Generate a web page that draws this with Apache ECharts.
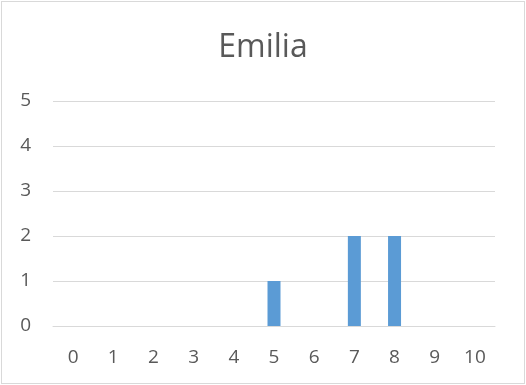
<!DOCTYPE html>
<html>
<head>
<meta charset="utf-8">
<script src="https://cdn.jsdelivr.net/npm/echarts@6/dist/echarts.min.js"></script>
<style>
html,body{margin:0;padding:0;background:#fff;}
#c{position:absolute;left:0;top:0;width:526px;height:385px;}
#frame{position:absolute;left:1px;top:1px;width:522px;height:381px;border:1px solid #d9d9d9;pointer-events:none;}
</style>
</head>
<body>
<div id="c"></div>
<div id="frame"></div>
<script>
const title = 'Emilia';
const categories = ['0','1','2','3','4','5','6','7','8','9','10'];
const values = [0,0,0,0,0,1,0,2,2,0,0];
const yTicks = [0,1,2,3,4,5];

const chart = echarts.init(document.getElementById('c'), null, {renderer:'canvas'});
const font = 'Open Sans, Lato, sans-serif';
chart.setOption({
  animation:false,
  title:{text:title,left:'center',top:27,textStyle:{fontFamily:font,fontSize:32,fontWeight:'normal',color:'#595959'}},
  grid:{left:53,right:31,top:101,bottom:59,containLabel:false},
  xAxis:{type:'category',data:categories,
    axisLine:{show:true,lineStyle:{color:'#d9d9d9',width:1}},
    axisTick:{show:false},
    axisLabel:{fontFamily:font,fontSize:19,color:'#595959',margin:22}},
  yAxis:{type:'value',min:yTicks[0],max:yTicks[yTicks.length-1],interval:1,
    axisLine:{show:false},axisTick:{show:false},
    splitLine:{lineStyle:{color:'#d9d9d9',width:1}},
    axisLabel:{fontFamily:font,fontSize:19,color:'#595959',margin:22}},
  series:[{type:'bar',data:values,barWidth:13,itemStyle:{color:'#5b9bd5'}}]
});
</script>
</body>
</html>
